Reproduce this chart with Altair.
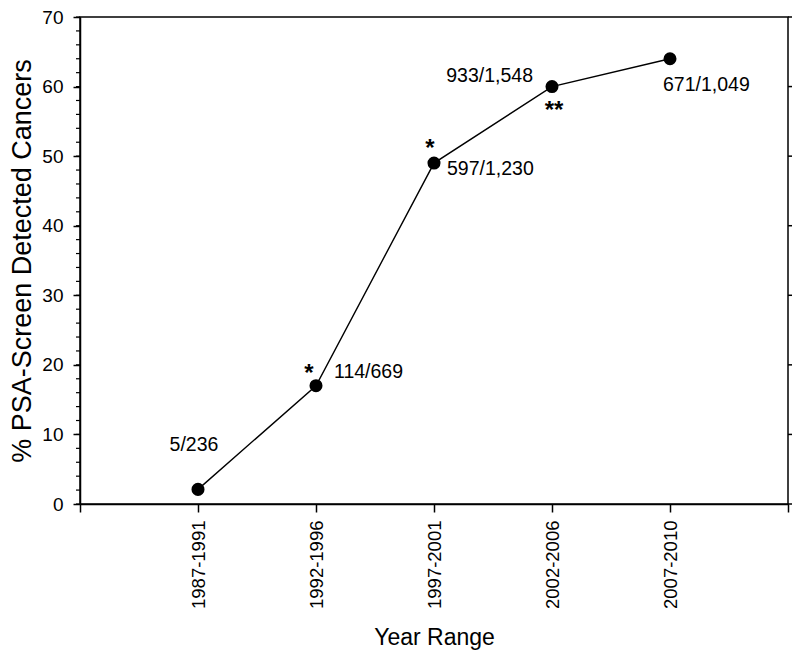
import altair as alt
import pandas as pd

# ---- data ----
categories = ["1987-1991", "1992-1996", "1997-2001", "2002-2006", "2007-2010"]
positions = [1, 2, 3, 4, 5]
percent = [2.1, 17.0, 49.0, 60.0, 64.0]
counts = ["5/236", "114/669", "597/1,230", "933/1,548", "671/1,049"]
stars = ["", "*", "*", "**", ""]
y_major = [0, 10, 20, 30, 40, 50, 60, 70]
y_minor = list(range(0, 71, 2))
x_ticks = [0, 1, 2, 3, 4, 5, 6]

# ---- styles (offsets in pixels, not data) ----
count_style = [
    dict(align="center", dx=-4, dy=-44),
    dict(align="left", dx=18, dy=-14),
    dict(align="left", dx=13, dy=6),
    dict(align="right", dx=-19, dy=-11),
    dict(align="left", dx=-7, dy=26),
]
star_style = [
    None,
    dict(dx=-7, dy=-12),
    dict(dx=-4, dy=-14),
    dict(dx=2, dy=24),
    None,
]

FONT = "Liberation Sans"
W, H = 708, 487

df = pd.DataFrame({"pos": positions, "pct": percent, "cat": categories,
                   "cnt": counts, "star": stars})

label_expr = "[''," + ",".join(f"'{c}'" for c in categories) + ",''][datum.value]"

x_scale = alt.Scale(domain=[0, 6], nice=False, zero=False)
y_scale = alt.Scale(domain=[0, 70], nice=False)

base = alt.Chart(df)

line = base.mark_line(color="black", strokeWidth=1.4).encode(
    x=alt.X("pos:Q", scale=x_scale,
            axis=alt.Axis(values=x_ticks, labelExpr=label_expr, labelAngle=270,
                          title="Year Range", grid=False, tickSize=8,
                          labelPadding=8, labelFontSize=18.5, titleFontSize=23,
                          titleFontWeight="normal", titlePadding=18,
                          domainWidth=1.5, tickWidth=1.5)),
    y=alt.Y("pct:Q", scale=y_scale,
            axis=alt.Axis(values=y_major, title="% PSA-Screen Detected Cancers",
                          grid=False, tickSize=7, labelPadding=10,
                          labelFontSize=19, titleFontSize=27,
                          titleFontWeight="normal", titlePadding=5,
                          domainWidth=1.5, tickWidth=1.5)),
)

points = base.mark_point(filled=True, color="black", opacity=1, size=170).encode(
    x=alt.X("pos:Q", scale=x_scale), y=alt.Y("pct:Q", scale=y_scale))

layers = [line, points]

for i, st in enumerate(count_style):
    layers.append(
        alt.Chart(df.iloc[[i]]).mark_text(
            font=FONT, fontSize=19.5, color="black", baseline="middle", **st
        ).encode(x=alt.X("pos:Q", scale=x_scale), y=alt.Y("pct:Q", scale=y_scale),
                 text="cnt:N"))

for i, st in enumerate(star_style):
    if st is None:
        continue
    layers.append(
        alt.Chart(df.iloc[[i]]).mark_text(
            font=FONT, fontSize=24, fontWeight="bold", color="black",
            baseline="middle", align="center", **st
        ).encode(x=alt.X("pos:Q", scale=x_scale), y=alt.Y("pct:Q", scale=y_scale),
                 text="star:N"))

minor_df = pd.DataFrame({"v": y_minor})
minor = alt.Chart(minor_df).mark_rule(color="black", strokeWidth=1.2).encode(
    x=alt.value(-4), x2=alt.value(0), y=alt.Y("v:Q", scale=y_scale))

major_df = pd.DataFrame({"v": y_major})
right_ticks = alt.Chart(major_df).mark_rule(color="black", strokeWidth=1.5).encode(
    x=alt.value(W), x2=alt.value(W + 8), y=alt.Y("v:Q", scale=y_scale))

layers += [minor, right_ticks]

chart = alt.layer(*layers).properties(
    width=W, height=H,
    autosize=alt.AutoSizeParams(type="none"),
    padding={"left": 72, "top": 9, "right": 4, "bottom": 148},
).configure_view(
    stroke="black", strokeWidth=1.5
).configure_axis(
    domainColor="black", tickColor="black", labelColor="black", titleColor="black",
    labelFont=FONT, titleFont=FONT
).configure_text(font=FONT)

chart.save("out.html", embed_options={"renderer": "svg", "actions": False})
